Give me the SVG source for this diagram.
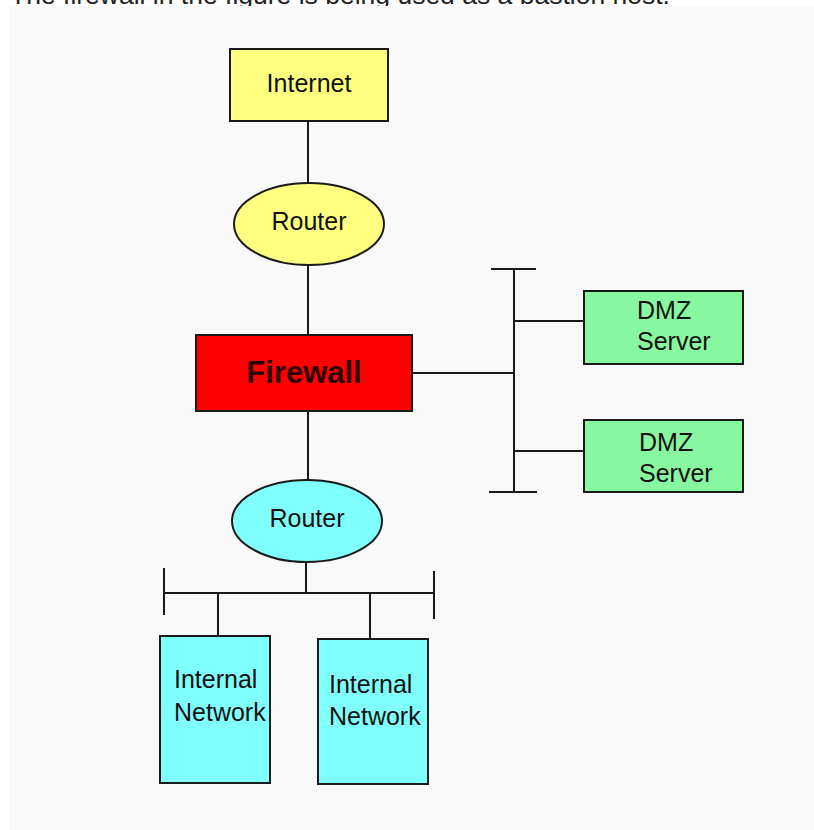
<svg xmlns="http://www.w3.org/2000/svg" width="814" height="830" viewBox="0 0 814 830">
<style>
.lbl{font-family:"Liberation Sans",Arial,sans-serif;font-size:25px;fill:#111}
.mid{text-anchor:middle}
.shape{stroke:#1a1a1a;stroke-width:2}
.wire{stroke:#1a1a1a;stroke-width:2;fill:none}
</style>
<rect x="0" y="0" width="814" height="830" fill="#ffffff"/>
<text x="10" y="4" font-family="'Liberation Sans',Arial,sans-serif" font-size="26.5" fill="#222">The firewall in the figure is being used as a bastion host.</text>
<rect x="9" y="6" width="805" height="824" fill="#f9f9f9"/>
<g id="connectors">
<line class="wire" x1="308" y1="121" x2="308" y2="183"/>
<line class="wire" x1="308" y1="265" x2="308" y2="335"/>
<line class="wire" x1="308" y1="412" x2="308" y2="480"/>
<line class="wire" x1="412" y1="373" x2="514" y2="373"/>
<line class="wire" x1="514" y1="269" x2="514" y2="492"/>
<line class="wire" x1="491" y1="269" x2="536" y2="269"/>
<line class="wire" x1="489" y1="492" x2="537" y2="492"/>
<line class="wire" x1="514" y1="321" x2="584" y2="321"/>
<line class="wire" x1="514" y1="451" x2="584" y2="451"/>
<line class="wire" x1="306" y1="562" x2="306" y2="593"/>
<line class="wire" x1="164" y1="593" x2="434" y2="593"/>
<line class="wire" x1="164" y1="568" x2="164" y2="615"/>
<line class="wire" x1="434" y1="571" x2="434" y2="619"/>
<line class="wire" x1="218" y1="593" x2="218" y2="636"/>
<line class="wire" x1="370" y1="593" x2="370" y2="639"/>
</g>
<g id="internet">
<rect class="shape" x="230" y="49" width="158" height="72" fill="#ffff80"/>
<text class="lbl mid" x="309" y="92">Internet</text>
</g>
<g id="router-outer">
<ellipse class="shape" cx="309" cy="224" rx="75" ry="41" fill="#ffff80"/>
<text class="lbl mid" x="309" y="230">Router</text>
</g>
<g id="firewall">
<rect class="shape" x="196" y="335" width="216" height="76" fill="#ff0000"/>
<text x="304" y="382.5" text-anchor="middle" font-family="'Liberation Sans',Arial,sans-serif" font-size="31" font-weight="bold" fill="#300000">Firewall</text>
</g>
<g id="dmz1">
<rect class="shape" x="584" y="291" width="159" height="73" fill="#88f8a0"/>
<text class="lbl" x="637" y="319">DMZ</text>
<text class="lbl" x="637" y="350">Server</text>
</g>
<g id="dmz2">
<rect class="shape" x="584" y="420" width="159" height="72" fill="#88f8a0"/>
<text class="lbl" x="639" y="451">DMZ</text>
<text class="lbl" x="639" y="482">Server</text>
</g>
<g id="router-inner">
<ellipse class="shape" cx="307" cy="521" rx="75" ry="41" fill="#80ffff"/>
<text class="lbl mid" x="307" y="527">Router</text>
</g>
<g id="internal1">
<rect class="shape" x="160" y="636" width="110" height="147" fill="#80ffff"/>
<text class="lbl" x="174" y="688">Internal</text>
<text class="lbl" x="174" y="721">Network</text>
</g>
<g id="internal2">
<rect class="shape" x="318" y="639" width="110" height="145" fill="#80ffff"/>
<text class="lbl" x="329" y="693">Internal</text>
<text class="lbl" x="329" y="725">Network</text>
</g>
</svg>
